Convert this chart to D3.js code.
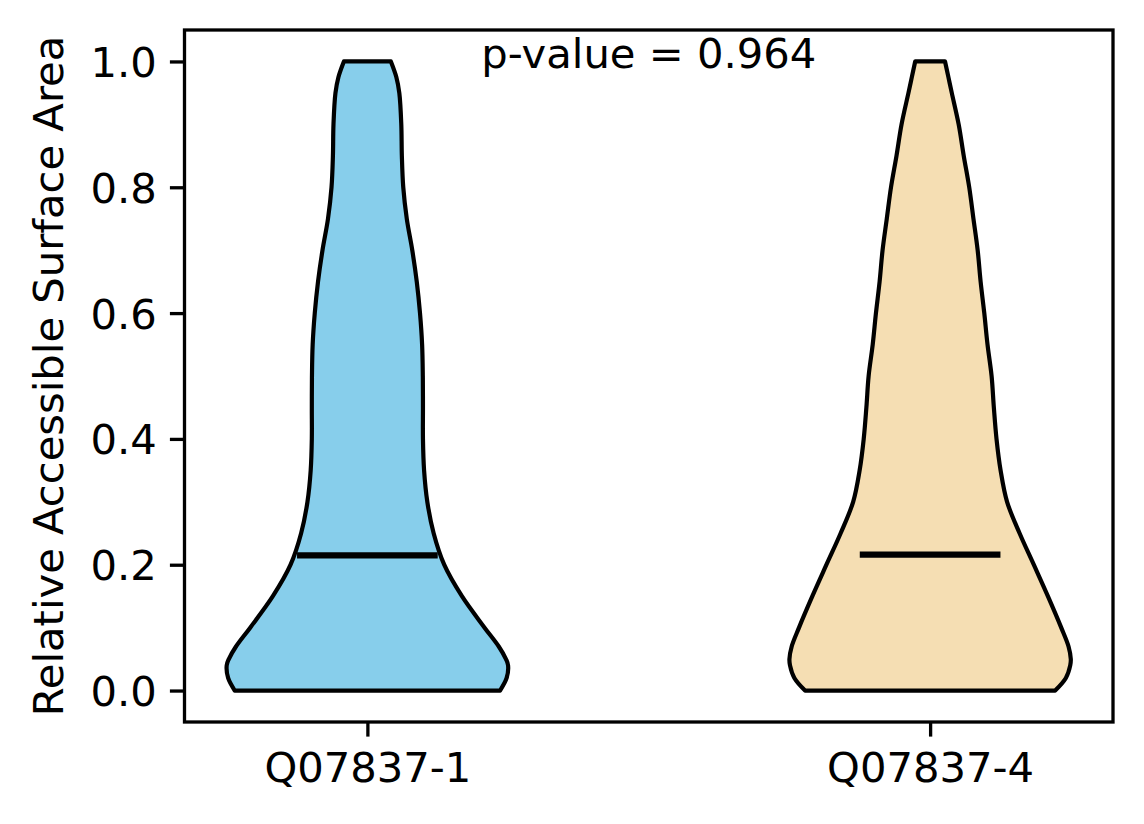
<!DOCTYPE html>
<meta charset="utf-8">
<style>
body { margin: 0; background: #fff; }
svg { display: block; }
text { font-family: "DejaVu Sans", sans-serif; fill: #000; }
.violin { stroke: #000; stroke-width: 4.2px; stroke-linejoin: round; }
.median { stroke: #000; stroke-width: 6.2px; }
.frame { fill: none; stroke: #000; stroke-width: 3.3px; }
</style>
<svg width="1144" height="824"></svg>
<script src="https://d3js.org/d3.v7.min.js"></script>
<script>

var categories = ["Q07837-1", "Q07837-4"];
var fills = ["#87CEEB", "#F5DEB3"];
var medians = [0.215, 0.216];
var pValueText = "p-value = 0.964";
var yTicks = [0.0, 0.2, 0.4, 0.6, 0.8, 1.0];

// RSA levels where the violin outline was read, and the relative half widths there
var levels = [0, 0.02, 0.04, 0.05, 0.07, 0.1, 0.15, 0.2, 0.25, 0.3, 0.35, 0.4, 0.45,
  0.5, 0.55, 0.6, 0.65, 0.7, 0.75, 0.8, 0.85, 0.9, 0.95, 0.975, 1.0];
var densityA = [0.943, 0.99, 1.0, 0.985, 0.934, 0.833, 0.672, 0.546, 0.471, 0.426, 0.403, 0.395, 0.395,
  0.394, 0.389, 0.374, 0.351, 0.319, 0.28, 0.255, 0.245, 0.241, 0.227, 0.206, 0.167];
var densityB = [0.889, 0.965, 0.996, 1.0, 0.984, 0.932, 0.837, 0.737, 0.636, 0.547, 0.501, 0.472, 0.453,
  0.437, 0.408, 0.385, 0.359, 0.338, 0.308, 0.278, 0.239, 0.203, 0.154, 0.13, 0.106];
var densities = [densityA, densityB];

var svg = d3.select("svg");
var plotLeft = 184.5, plotRight = 1113, plotTop = 30, plotBottom = 722;

// matplotlib-like limits: positions 1 and 2, violin width 0.5, 5% margins
var x = d3.scaleLinear().domain([0.675, 2.325]).range([plotLeft, plotRight]);
var y = d3.scaleLinear().domain([-0.05, 1.05]).range([plotBottom, plotTop]);
var halfWidth = d3.scaleLinear().domain([0, 1]).range([0, x(1.25) - x(1)]);

var area = d3.area()
  .curve(d3.curveCatmullRom)
  .y(function(d) { return y(d.v); })
  .x0(function(d) { return d.c - halfWidth(d.w); })
  .x1(function(d) { return d.c + halfWidth(d.w); });

categories.forEach(function(cat, i) {
  var c = x(i + 1);
  var pts = levels.map(function(v, j) { return { v: v, w: densities[i][j], c: c }; });
  svg.append("path")
    .attr("class", "violin")
    .attr("fill", fills[i])
    .attr("d", area(pts) );
  svg.append("line")
    .attr("class", "median")
    .attr("x1", x(i + 1 - 0.125))
    .attr("x2", x(i + 1 + 0.125))
    .attr("y1", y(medians[i]))
    .attr("y2", y(medians[i]));
});

// axes
var yAxis = d3.axisLeft(y).tickValues(yTicks).tickFormat(d3.format(".1f"))
  .tickSize(14.6).tickPadding(13);
var xAxis = d3.axisBottom(x).tickValues([1, 2]).tickFormat(function(d) { return categories[d - 1]; })
  .tickSize(14.6).tickPadding(14);

var gy = svg.append("g").attr("transform", "translate(" + plotLeft + ",0)").call(yAxis);
var gx = svg.append("g").attr("transform", "translate(0," + plotBottom + ")").call(xAxis);
[gy, gx].forEach(function(g) {
  g.select(".domain").remove();
  g.selectAll(".tick line").attr("stroke", "#000").attr("stroke-width", 3.3);
  g.selectAll(".tick text").attr("font-size", "41.7px").attr("font-family", "DejaVu Sans");
});
gy.selectAll(".tick text").attr("dy", "0.36em");
gx.selectAll(".tick text").attr("dy", "0.76em");

svg.append("rect")
  .attr("class", "frame")
  .attr("x", plotLeft).attr("y", plotTop)
  .attr("width", plotRight - plotLeft).attr("height", plotBottom - plotTop);

svg.append("text")
  .attr("x", (plotLeft + plotRight) / 2)
  .attr("y", 67.7)
  .attr("text-anchor", "middle")
  .attr("font-size", "41.7px")
  .text(pValueText);

svg.append("text")
  .attr("transform", "translate(63," + (plotTop + plotBottom) / 2 + ") rotate(-90)")
  .attr("text-anchor", "middle")
  .attr("font-size", "41.7px")
  .text("Relative Accessible Surface Area");

</script>
